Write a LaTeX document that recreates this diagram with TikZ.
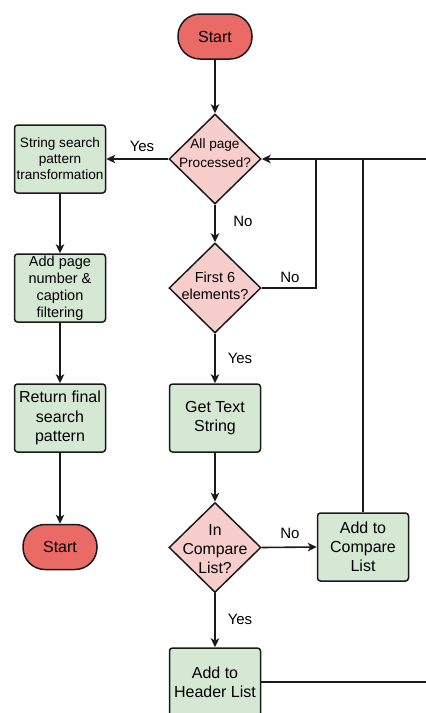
\documentclass[tikz,border=0pt]{standalone}
\usepackage{fontspec}
\setmainfont{Liberation Sans}
\usetikzlibrary{shapes.geometric,arrows.meta}
\definecolor{termred}{HTML}{EA6B66}
\definecolor{decpink}{HTML}{F8CECC}
\definecolor{procgreen}{HTML}{D5E8D4}
\definecolor{ink}{HTML}{1A1A1A}
\tikzset{
  terminal/.style={draw=ink, line width=1.5pt, fill=termred, rectangle, rounded corners=22pt,
    minimum width=74pt, minimum height=45pt, inner sep=0pt, font=\fontsize{16}{19}\selectfont},
  decision/.style={draw=ink, line width=1.5pt, fill=decpink, diamond, minimum width=92pt,
    minimum height=90pt, inner sep=0pt},
  process/.style={draw=ink, line width=1.5pt, fill=procgreen, rectangle, rounded corners=3pt,
    minimum width=91pt, minimum height=68pt, inner sep=0pt, align=center},
  dtext/.style={align=center, inner sep=0pt},
  flow/.style={draw=ink, line width=1.6pt, -{Stealth[length=9pt,width=8.5pt,inset=2.5pt]}},
  link/.style={draw=ink, line width=1.6pt},
  tag/.style={font=\fontsize{15}{18}\selectfont, inner sep=0pt}
}
\begin{document}
\begin{tikzpicture}[x=1pt,y=-1pt]
\useasboundingbox (0,0) rectangle (426,713);
\clip (0,0) rectangle (426,713);

% main column
\node[terminal] (start) at (215,36.5) {Start};
\node[decision] (d1) at (215,159) {};
\node[dtext, font=\fontsize{13.6}{19}\selectfont] (d1t) at (215,153.5) {All page\\Processed?};
\node[decision] (d2) at (215,288) {};
\node[dtext, font=\fontsize{14.5}{16.5}\selectfont] (d2t) at (215,286) {First 6\\elements?};
\node[process, font=\fontsize{16}{19.5}\selectfont] (gts) at (215,418) {Get Text\\String};
\node[decision] (d3) at (215,547.5) {};
\node[dtext, font=\fontsize{15.8}{19}\selectfont] (d3t) at (215,549) {In\\Compare\\List?};
\node[process, font=\fontsize{16}{19}\selectfont] (hdr) at (215,682) {Add to\\Header List};
\node[process, font=\fontsize{16}{19}\selectfont] (cmp) at (363,547) {Add to\\Compare\\List};

% left column
\node[process, font=\fontsize{13.6}{16}\selectfont] (sp) at (60,159) {String search\\pattern\\transformation};
\node[process, font=\fontsize{14.5}{17}\selectfont] (pf) at (60,288) {Add page\\number \&\\caption\\filtering};
\node[process, font=\fontsize{16}{19.5}\selectfont] (rf) at (60,418) {Return final\\search\\pattern};
\node[terminal] (end) at (60,547) {Start};

% loop-back points
\coordinate (nojoin) at (316,288);
\coordinate (cmpjoin) at (363,159);
\coordinate (loopdown) at (440,682);
\coordinate (loopup) at (440,159);

% connectors
\draw[flow] (start) -- (d1);
\draw[flow] (d1.west) -- (sp.east);
\draw[flow] (d1.south) -- (d2.north);
\draw[link] (d2.east) -- (nojoin) -- (nojoin |- d1.east);
\draw[flow] (d2.south) -- (gts.north);
\draw[flow] (gts.south) -- (d3.north);
\draw[flow] (d3.east) -- (cmp.west);
\draw[link] (cmp.north) -- (cmpjoin);
\draw[flow] (d3.south) -- (hdr.north);
\draw[flow] (hdr.east) -- (loopdown) -- (loopup) -- (d1.east);
\draw[flow] (sp.south) -- (pf.north);
\draw[flow] (pf.south) -- (rf.north);
\draw[flow] (rf.south) -- (end.north);

% branch labels
\node[tag] at (142,146) {Yes};
\node[tag] at (243,221) {No};
\node[tag] at (290,277) {No};
\node[tag] at (240,358) {Yes};
\node[tag] at (290,533) {No};
\node[tag] at (240,619) {Yes};
\end{tikzpicture}
\end{document}
